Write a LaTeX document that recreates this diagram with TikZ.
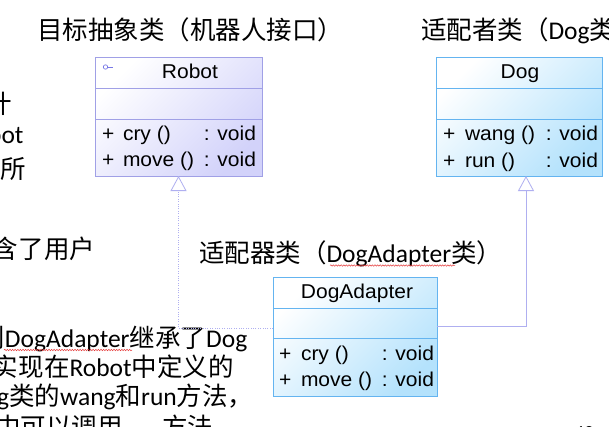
\documentclass[tikz,border=0pt]{standalone}
\usepackage{fontspec}
\setmainfont{Liberation Sans}
\newfontfamily\cjkf{Noto Sans CJK SC}
\newfontfamily\latf{Carlito}
\newfontfamily\umlf[FakeStretch=1.05]{Liberation Sans}
\usetikzlibrary{arrows.meta,decorations.pathmorphing,calc}
\definecolor{robotline}{RGB}{160,160,230}
\definecolor{robotfill}{RGB}{210,210,250}
\definecolor{dogline}{RGB}{100,180,240}
\definecolor{dogfill}{RGB}{180,226,252}
\definecolor{connline}{RGB}{175,175,240}
\definecolor{iconcol}{RGB}{120,120,230}
\definecolor{squig}{RGB}{230,60,60}
\begin{document}
\begin{tikzpicture}[x=1pt,y=1pt,
  cjktext/.style={inner sep=0pt, outer sep=0pt, anchor=base west, font=\cjkf\fontsize{25.5}{30}\selectfont},
  umltext/.style={inner sep=0pt, outer sep=0pt, anchor=base west, font=\umlf\fontsize{20}{23}\selectfont},
  umlcenter/.style={umltext, anchor=base},
  umlright/.style={umltext, anchor=base east},
  robotbox/.style={draw=robotline, line width=0.8pt, shade, top color=white, bottom color=robotfill, shading angle=45, inner sep=0pt, outer sep=0pt, anchor=north west},
  dogbox/.style={draw=dogline, line width=0.8pt, shade, top color=white, bottom color=dogfill, shading angle=45, inner sep=0pt, outer sep=0pt, anchor=north west},
  realize/.style={draw=connline, line width=0.8pt, dash pattern=on 0.8pt off 1.6pt, -{Triangle[length=15pt, width=16pt, fill=white, line width=0.8pt]}},
  general/.style={draw=connline, line width=0.8pt, -{Triangle[length=15pt, width=16pt, fill=white, line width=0.8pt]}},
  squiggle/.style={draw=squig, line width=0.5pt, decorate, decoration={snake, amplitude=0.7pt, segment length=2.6pt}}
]
\useasboundingbox (0,0) rectangle (609,-426);
\clip (0,0) rectangle (609,-426);
\fill[white] (0,0) rectangle (609,-426);

% ---- titles ----
\node[cjktext] (t1) at (37,-39) {目标抽象类（机器人接口）};
\node[cjktext] (t2) at (421,-39) {适配者类（{\latf Dog}类）};
\node[cjktext] (t3) at (199,-262) {适配器类（{\latf DogAdapter}类）};
\draw[squiggle] (330,-265.5) -- (455,-265.5);

% ---- left side text fragments ----
\node[cjktext] (l1) at (-13,-113.5) {计};
\node[cjktext, anchor=base east] (l2) at (23.5,-143) {\latf Robot};
\node[cjktext] (l3) at (0,-178) {所};
\node[cjktext] (l4) at (-7,-258) {含了用户};
\node[cjktext] (b1) at (-20.5,-347) {则{\latf DogAdapter}继承了{\latf Dog}};
\draw[squiggle] (4,-350) -- (132,-350);
\node[cjktext] (b2) at (-7,-376) {实现在{\latf Robot}中定义的};
\node[cjktext] (b3) at (-32,-405) {{\latf Dog}类的{\latf wang}和{\latf run}方法，};
\node[cjktext] (b4) at (-5,-436) {中可以调用};
\node[cjktext] (b5) at (162,-436) {方法};
\node[cjktext, font=\latf\fontsize{20}{24}\selectfont] (pg) at (574,-439) {40};

% ---- Robot class ----
\node[robotbox, minimum width=167pt, minimum height=119pt] (robot) at (95,-57) {};
\draw[robotline, line width=0.8pt] ([yshift=-31pt]robot.north west) -- ([yshift=-31pt]robot.north east);
\draw[robotline, line width=0.8pt] ([yshift=-62pt]robot.north west) -- ([yshift=-62pt]robot.north east);
\node[umlcenter] (rname) at (190,-78.3) {Robot};
\draw[iconcol, line width=0.7pt] (105.5,-67) circle (2.2pt);
\draw[iconcol, line width=0.7pt] (107.7,-67) -- (113,-67);
\node[umltext] (rp1) at (102,-140) {+};
\node[umltext] (rm1) at (123,-140) {cry ()};
\node[umlright] (rv1) at (256,-140) {: void};
\node[umltext] (rp2) at (102,-166.5) {+};
\node[umltext] (rm2) at (123,-166.5) {move ()};
\node[umlright] (rv2) at (256,-166.5) {: void};

% ---- Dog class ----
\node[dogbox, minimum width=166pt, minimum height=119pt] (dog) at (436,-57) {};
\draw[dogline, line width=0.8pt] ([yshift=-31pt]dog.north west) -- ([yshift=-31pt]dog.north east);
\draw[dogline, line width=0.8pt] ([yshift=-62pt]dog.north west) -- ([yshift=-62pt]dog.north east);
\node[umlcenter] (dname) at (520,-78.3) {Dog};
\node[umltext] (dp1) at (443,-140.5) {+};
\node[umltext] (dm1) at (465,-140.5) {wang ()};
\node[umlright] (dv1) at (598,-140.5) {: void};
\node[umltext] (dp2) at (443,-167) {+};
\node[umltext] (dm2) at (465,-167) {run ()};
\node[umlright] (dv2) at (598,-167) {: void};

% ---- DogAdapter class ----
\node[dogbox, minimum width=164pt, minimum height=119.5pt] (adapter) at (273,-277) {};
\draw[dogline, line width=0.8pt] ([yshift=-31pt]adapter.north west) -- ([yshift=-31pt]adapter.north east);
\draw[dogline, line width=0.8pt] ([yshift=-61pt]adapter.north west) -- ([yshift=-61pt]adapter.north east);
\node[umlcenter] (aname) at (357,-298.3) {DogAdapter};
\node[umltext] (ap1) at (279,-360) {+};
\node[umltext] (am1) at (301,-360) {cry ()};
\node[umlright] (av1) at (434,-360) {: void};
\node[umltext] (ap2) at (279,-386.5) {+};
\node[umltext] (am2) at (301,-386.5) {move ()};
\node[umlright] (av2) at (434,-386.5) {: void};

% ---- connectors ----
\draw[realize] ([yshift=8.5pt]adapter.west) -| (robot.south);
\draw[general] ([yshift=10.5pt]adapter.east) -| ([xshift=7pt]dog.south);
\end{tikzpicture}
\end{document}
